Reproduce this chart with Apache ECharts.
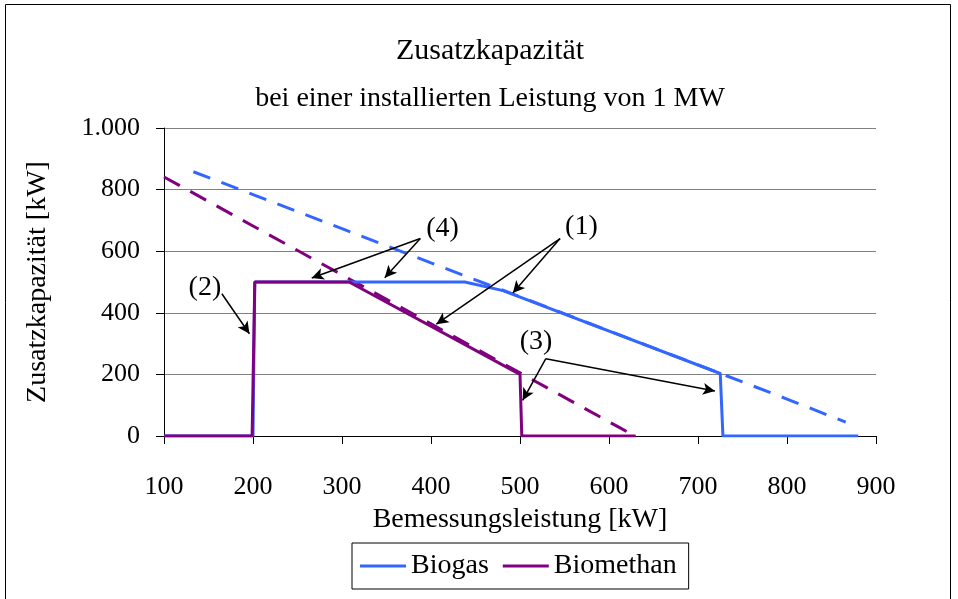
<!DOCTYPE html>
<html>
<head>
<meta charset="utf-8">
<script src="https://cdn.jsdelivr.net/npm/echarts@6/dist/echarts.min.js"></script>
<style>
  html, body { margin: 0; padding: 0; background: #fff; }
  #main { width: 958px; height: 599px; }
</style>
</head>
<body>
<div id="main"></div>
<script>
// Daten
var biogas = [[100, 0], [200, 0], [202, 500], [438, 500], [481, 472], [725, 203], [728, 0], [880, 0]];
var biogasMax = [[133, 858], [200, 784], [300, 673], [400, 562], [500, 452], [600, 341], [700, 231], [800, 120], [866, 45]];
var biomethan = [[100, 0], [199, 0], [202, 500], [308, 500], [500, 200], [502, 0], [630, 0]];
var biomethanMax = [[100, 841], [200, 682], [300, 523], [400, 364], [500, 205], [600, 46], [612, 27], [629, 0]];

// Anmerkungen: Text + Pfeile (Datenkoordinaten)
var noteLabels = [['(1)', 569, 679], ['(2)', 146, 483], ['(3)', 518, 305], ['(4)', 413, 674]];
var noteArrows = [
    [[545, 641], [492, 464]],
    [[545, 641], [406, 363]],
    [[165, 462], [196, 332]],
    [[529, 251], [503, 116]],
    [[529, 251], [719, 146]],
    [[388, 641], [266, 513]],
    [[388, 641], [348, 514]]
];

var serif = '"Liberation Serif", "Times New Roman", serif';
var blue = '#3366ff';
var purple = '#800080';

var myChart = echarts.init(document.getElementById('main'));

var option = {
    animation: false,
    title: [
        {
            text: 'Zusatzkapazität',
            left: 485, top: 31, textAlign: 'center',
            textStyle: { fontFamily: serif, fontSize: 30, fontWeight: 'normal', color: '#000' }
        },
        {
            text: 'bei einer installierten Leistung von 1 MW',
            left: 485, top: 80, textAlign: 'center',
            textStyle: { fontFamily: serif, fontSize: 28, fontWeight: 'normal', color: '#000' }
        }
    ],
    graphic: [{
        type: 'rect',
        shape: { x: 5.5, y: 4.5, width: 945, height: 600 },
        style: { fill: 'none', stroke: '#000', lineWidth: 1 },
        silent: true
    }],
    legend: {
        data: ['Biogas', 'Biomethan'],
        left: 352, top: 543,
        padding: [9, 12, 9, 8],
        borderColor: '#000', borderWidth: 1,
        icon: 'rect',
        itemWidth: 46, itemHeight: 3, itemGap: 14,
        textStyle: { fontFamily: serif, fontSize: 28, color: '#000' }
    },
    grid: { left: 164, right: 82, top: 128, bottom: 163 },
    xAxis: {
        type: 'value', min: 100, max: 900, interval: 100,
        name: 'Bemessungsleistung [kW]', nameLocation: 'middle', nameGap: 70,
        nameTextStyle: { fontFamily: serif, fontSize: 28, color: '#000' },
        axisLine: { lineStyle: { color: '#000', width: 1 } },
        axisTick: { show: true, inside: false, length: 8, lineStyle: { color: '#000' } },
        axisLabel: { fontFamily: serif, fontSize: 26, color: '#000', margin: 38 },
        splitLine: { show: false }
    },
    yAxis: {
        type: 'value', min: 0, max: 1000, interval: 200,
        name: 'Zusatzkapazität [kW]', nameLocation: 'middle', nameGap: 112,
        nameTextStyle: { fontFamily: serif, fontSize: 28, color: '#000' },
        axisLine: { show: true, lineStyle: { color: '#000', width: 1 } },
        axisTick: { show: true, inside: false, length: 8, lineStyle: { color: '#000' } },
        axisLabel: {
            fontFamily: serif, fontSize: 26, color: '#000', margin: 24,
            formatter: function (v) { return v >= 1000 ? Math.floor(v / 1000) + '.' + String(v % 1000).padStart(3, '0') : String(v); }
        },
        splitLine: { show: true, lineStyle: { color: '#808080', width: 1 } }
    },
    series: [
        {
            name: 'Biogas max', type: 'line', data: biogasMax, symbol: 'none', silent: true,
            lineStyle: { color: blue, width: 3, type: [18, 12] }, itemStyle: { color: blue }
        },
        {
            name: 'Biomethan max', type: 'line', data: biomethanMax, symbol: 'none', silent: true,
            lineStyle: { color: purple, width: 3, type: [18, 12] }, itemStyle: { color: purple }
        },
        {
            name: 'Biogas', type: 'line', data: biogas, symbol: 'none', silent: true,
            lineStyle: { color: blue, width: 3 }, itemStyle: { color: blue }
        },
        {
            name: 'Biomethan', type: 'line', data: biomethan, symbol: 'none', silent: true,
            lineStyle: { color: purple, width: 3 }, itemStyle: { color: purple }
        },
        {
            name: 'Anmerkungen', type: 'line', data: [], symbol: 'none', silent: true,
            markLine: {
                silent: true, animation: false,
                symbol: ['none', 'arrow'], symbolSize: [9, 12],
                label: { show: false },
                lineStyle: { color: '#000', width: 1.5, type: 'solid' },
                emphasis: { disabled: true },
                data: noteArrows.map(function (a) {
                    return [{ coord: a[0] }, { coord: a[1] }];
                })
            },
            markPoint: {
                silent: true, animation: false,
                symbol: 'rect', symbolSize: 1,
                itemStyle: { color: 'rgba(0,0,0,0)' },
                label: {
                    show: true, position: 'inside',
                    fontFamily: serif, fontSize: 28, color: '#000',
                    formatter: function (p) { return p.name; }
                },
                data: noteLabels.map(function (n) {
                    return { name: n[0], coord: [n[1], n[2]] };
                })
            }
        }
    ]
};

myChart.setOption(option);
</script>
</body>
</html>
